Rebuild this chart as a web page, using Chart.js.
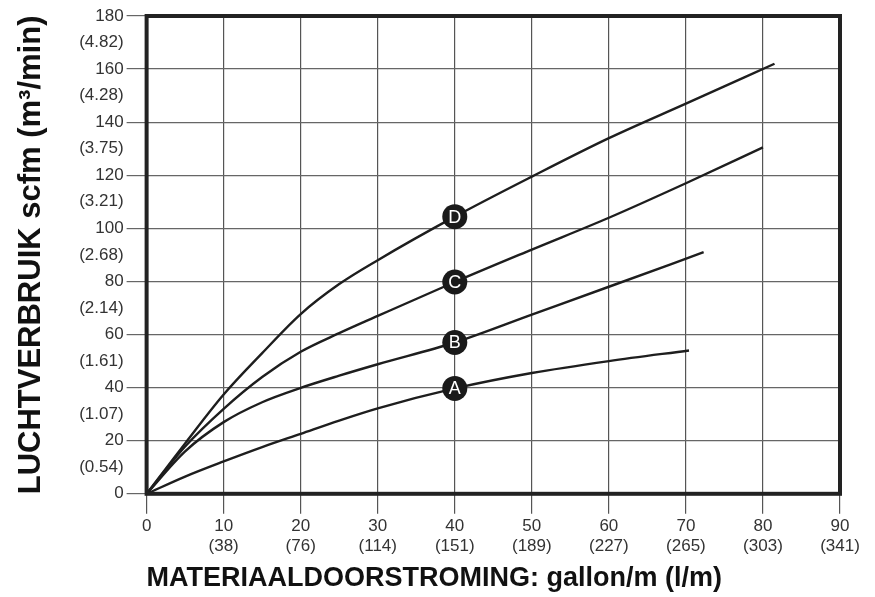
<!DOCTYPE html>
<html>
<head>
<meta charset="utf-8">
<script src="https://cdn.jsdelivr.net/npm/chart.js@4.4.1/dist/chart.umd.min.js"></script>
<style>
  html, body { margin: 0; padding: 0; background: #fff; }
  #wrap { width: 875px; height: 597px; }
</style>
</head>
<body>
<div id="wrap"><canvas id="chart"></canvas></div>
<script>
const flowA = [0, 5, 10, 15, 20, 25, 30, 40, 50, 60, 70.4];
const airA = [0, 6.5, 12.2, 17.6, 22.6, 27.6, 32.2, 39.7, 45.5, 50, 54];

const flowB = [0, 5, 10, 15, 20, 25, 30, 40, 50, 60, 72.3];
const airB = [0, 16, 27, 34.5, 39.9, 44.5, 48.8, 57, 67.5, 78, 91];

const flowC = [0, 5, 10, 15, 20, 25, 30, 40, 50, 60, 70, 80];
const airC = [0, 17.8, 32, 44, 53.5, 60.5, 67, 79.8, 92, 104, 117, 130.5];

const flowD = [0, 5, 10, 15, 20, 25, 30, 40, 50, 60, 70, 81.5];
const airD = [0, 19, 37.4, 53, 67.7, 79, 88, 104.4, 119.5, 134, 147, 162];

const curveNames = ["A", "B", "C", "D"];
const markerFlow = 40;

const xLitres = ["", "(38)", "(76)", "(114)", "(151)", "(189)", "(227)", "(265)", "(303)", "(341)"];
const yMetric = ["(0.54)", "(1.07)", "(1.61)", "(2.14)", "(2.68)", "(3.21)", "(3.75)", "(4.28)", "(4.82)"];

const FONT = "'Liberation Sans', Arial, Helvetica, sans-serif";
const INK = "#1e1e1e";

function pts(xs, ys) {
  return xs.map((x, i) => ({ x: x, y: ys[i] }));
}

function curve(name, xs, ys) {
  return {
    label: name,
    data: pts(xs, ys),
    borderColor: INK,
    borderWidth: 2.4,
    pointRadius: 0,
    fill: false,
    cubicInterpolationMode: "monotone"
  };
}

// thick frame round the plot and the lettered circles on each curve
const framePlugin = {
  id: "frame",
  afterDraw(chart) {
    const ctx = chart.ctx;
    const a = chart.chartArea;
    const xs = chart.scales.x;
    const ys = chart.scales.y;
    ctx.save();
    ctx.strokeStyle = "#222";
    ctx.lineWidth = 4;
    ctx.strokeRect(a.left, a.top, a.right - a.left, a.bottom - a.top);

    chart.data.datasets.forEach((ds) => {
      const p = ds.data.find((d) => d.x === markerFlow);
      if (!p) return;
      const px = xs.getPixelForValue(p.x);
      const py = ys.getPixelForValue(p.y);
      ctx.beginPath();
      ctx.arc(px, py, 12.5, 0, Math.PI * 2);
      ctx.fillStyle = "#1a1a1a";
      ctx.fill();
      ctx.fillStyle = "#fff";
      ctx.font = "18px " + FONT;
      ctx.textAlign = "center";
      ctx.textBaseline = "middle";
      ctx.fillText(ds.label, px, py + 1);
    });
    ctx.restore();
  }
};

new Chart(document.getElementById("chart").getContext("2d"), {
  type: "line",
  data: {
    datasets: [
      curve(curveNames[0], flowA, airA),
      curve(curveNames[1], flowB, airB),
      curve(curveNames[2], flowC, airC),
      curve(curveNames[3], flowD, airD)
    ]
  },
  options: {
    animation: false,
    responsive: true,
    maintainAspectRatio: false,
    layout: { padding: { top: 16, right: 35, left: 5, bottom: 0 } },
    plugins: { legend: { display: false }, tooltip: { enabled: false } },
    scales: {
      x: {
        type: "linear",
        min: 0,
        max: 90,
        border: { display: false },
        grid: { color: "#555", lineWidth: 1.2, tickLength: 20, tickColor: "#555" },
        ticks: {
          stepSize: 10,
          maxRotation: 0,
          color: "#333",
          padding: 2,
          font: { family: FONT, size: 17 },
          callback: (v) => {
            const i = Math.round(v / 10);
            return xLitres[i] ? [String(v), xLitres[i]] : String(v);
          }
        },
        title: {
          display: true,
          align: "start",
          text: "MATERIAALDOORSTROMING: gallon/m (l/m)",
          color: "#111",
          font: { family: FONT, size: 27, weight: "bold" },
          padding: { top: 4, bottom: 2 }
        }
      },
      y: {
        min: 0,
        max: 180,
        border: { display: false },
        grid: {
          lineWidth: 1.2,
          tickLength: 20,
          color: (c) => (c.tick && c.tick.value % 20 === 0 ? "#666" : "rgba(0,0,0,0)")
        },
        ticks: {
          stepSize: 10,
          color: "#333",
          padding: 3,
          font: { family: FONT, size: 17 },
          callback: (v) => (v % 20 === 0 ? String(v) : yMetric[(v - 10) / 20])
        },
        title: {
          display: true,
          text: "LUCHTVERBRUIK scfm (m³/min)",
          color: "#111",
          font: { family: FONT, size: 31, weight: "bold" },
          padding: { top: 8, bottom: 26 }
        }
      }
    }
  },
  plugins: [framePlugin]
});
</script>
</body>
</html>
